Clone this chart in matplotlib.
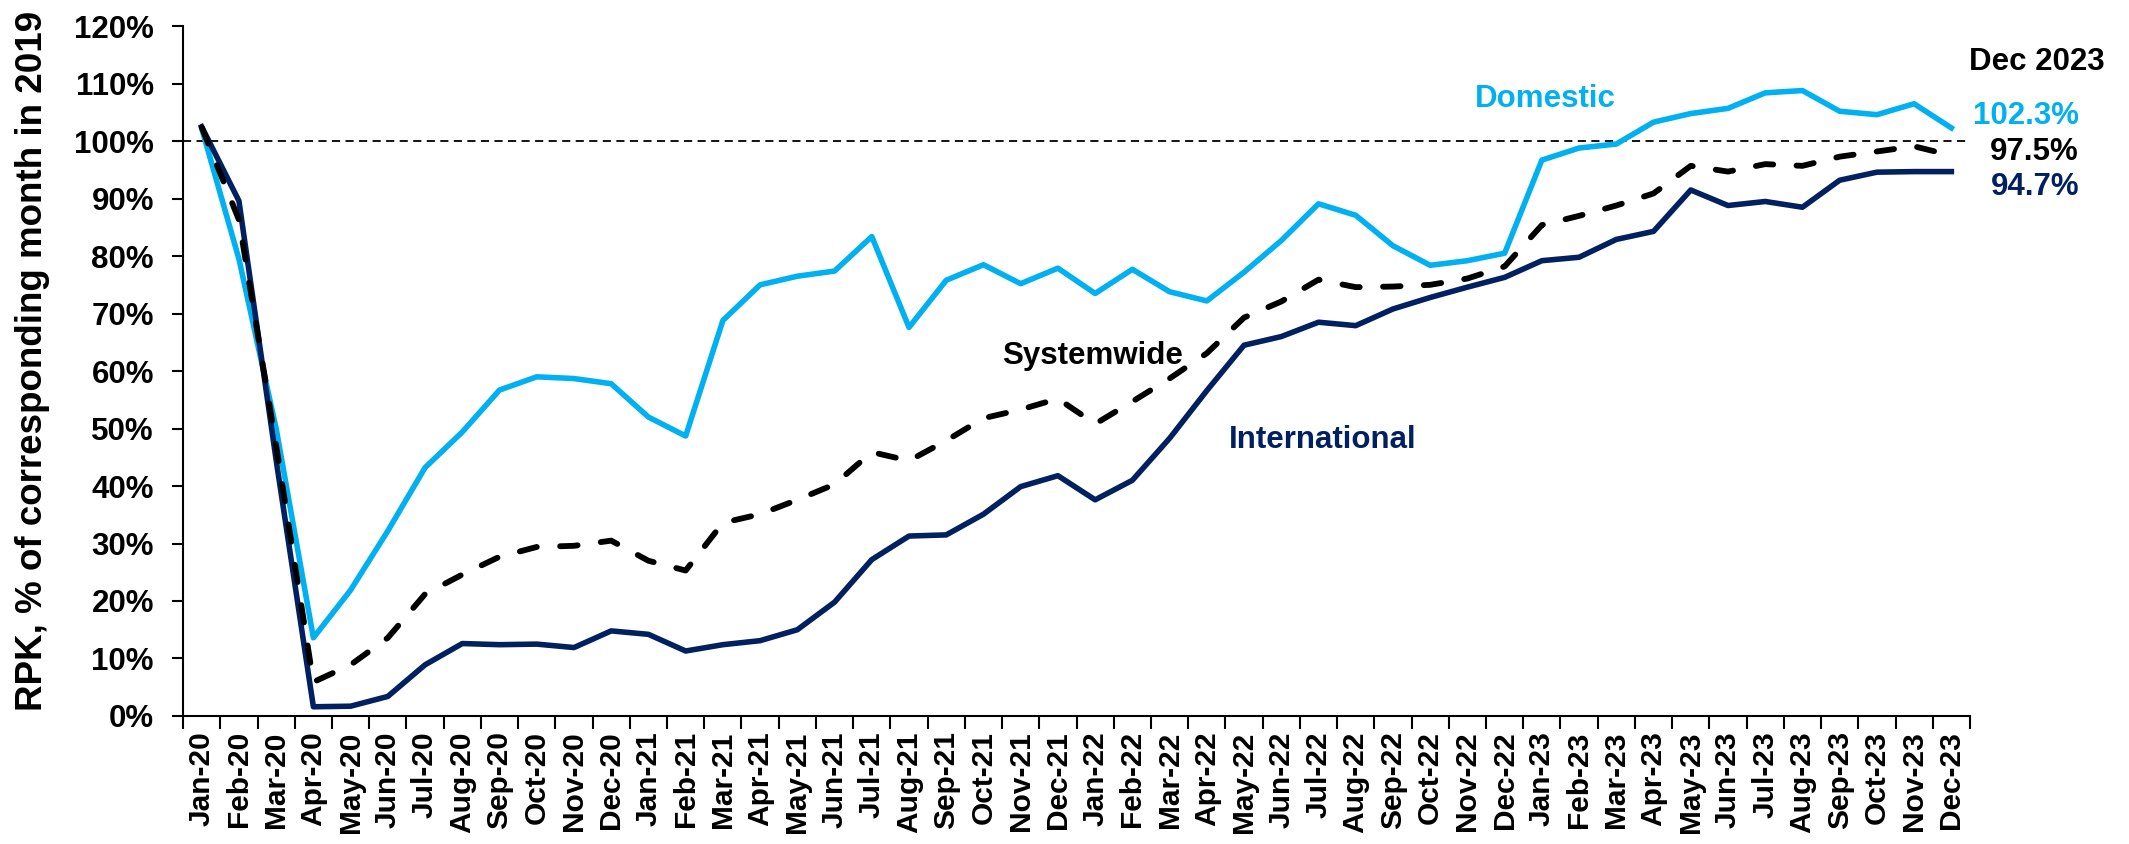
import matplotlib.pyplot as plt
import numpy as np

plt.rcParams['font.family'] = ['Liberation Sans', 'DejaVu Sans']
plt.rcParams['font.weight'] = 'bold'

month_names = ['Jan', 'Feb', 'Mar', 'Apr', 'May', 'Jun',
               'Jul', 'Aug', 'Sep', 'Oct', 'Nov', 'Dec']
years = ['20', '21', '22', '23']
months = [m + '-' + y for y in years for m in month_names]

# % of corresponding month in 2019
domestic = [102.2, 79.5, 50.0, 13.6, 21.9, 32.2, 43.2, 49.4, 56.7, 59.0, 58.7, 57.8,
            52.0, 48.7, 68.8, 75.0, 76.5, 77.4, 83.4, 67.6, 75.8, 78.5, 75.2, 77.9,
            73.5, 77.7, 73.8, 72.2, 77.2, 82.7, 89.1, 87.1, 81.8, 78.4, 79.2, 80.5,
            96.7, 98.8, 99.5, 103.3, 104.8, 105.7, 108.4, 108.8, 105.2, 104.6, 106.5, 102.3]
international = [102.5, 89.6, 44.5, 1.6, 1.7, 3.4, 8.9, 12.6, 12.4, 12.5, 11.9, 14.8,
                 14.2, 11.3, 12.4, 13.1, 15.0, 19.8, 27.2, 31.3, 31.5, 35.1, 39.9, 41.8,
                 37.6, 41.0, 48.3, 56.6, 64.5, 66.0, 68.5, 67.9, 70.8, 72.8, 74.6, 76.3,
                 79.2, 79.8, 82.9, 84.3, 91.5, 88.8, 89.5, 88.5, 93.2, 94.6, 94.7, 94.7]
systemwide = [102.4, 86.3, 47.0, 5.9, 8.9, 13.6, 21.2, 24.6, 27.7, 29.4, 29.6, 30.5,
              27.0, 25.3, 33.6, 35.1, 37.6, 40.3, 45.9, 44.4, 47.9, 51.8, 53.3, 55.2,
              50.8, 54.7, 58.7, 63.1, 69.3, 72.1, 75.9, 74.6, 74.7, 75.0, 76.1, 78.2,
              85.4, 87.0, 88.8, 90.9, 95.7, 94.7, 96.0, 95.7, 97.3, 98.2, 99.1, 97.5]

c_dom = '#00B0F0'
c_int = '#002060'

fig = plt.figure(figsize=(21.29, 8.44), dpi=100)
ax = fig.add_axes([0.086, 0.1517, 0.8393, 0.8173])

x = np.arange(len(months))
dom = np.array(domestic) / 100
intl = np.array(international) / 100
sysw = np.array(systemwide) / 100

ax.axhline(1.0, color='black', lw=1.3, ls=(0, (4.5, 3)), zorder=1)
ax.plot(x, dom, color=c_dom, lw=4, zorder=2)
ax.plot(x, intl, color=c_int, lw=4, zorder=3)
ax.plot(x, sysw, color='black', lw=4.2, ls=(0, (3.0, 4.0)),
        dash_capstyle='round', zorder=4)

ax.set_xlim(-0.5, len(months) - 0.5)
ax.set_ylim(0, 1.2)
ax.set_yticks(np.arange(0, 1.21, 0.1))
ax.set_yticklabels([f'{v}%' for v in range(0, 121, 10)])

# ticks at month boundaries, labels at month centres
ax.set_xticks(np.arange(len(months) + 1) - 0.5)
ax.set_xticklabels([''] * (len(months) + 1))
ax.set_xticks(x, minor=True)
ax.set_xticklabels(months, minor=True, rotation=90)
ax.tick_params(axis='x', which='major', length=9, width=1.5, direction='out')
ax.tick_params(axis='x', which='minor', length=0, pad=11, labelsize=21.5)
ax.tick_params(axis='y', length=8, width=1.5, pad=13, labelsize=22.5)
for lab in ax.get_xticklabels(minor=True) + ax.get_yticklabels():
    lab.set_fontweight('bold')

for s in ['top', 'right']:
    ax.spines[s].set_visible(False)
for s in ['left', 'bottom']:
    ax.spines[s].set_linewidth(1.5)

fig.text(0.0155, 0.572, 'RPK, % of corresponding month in 2019', rotation=90,
         ha='center', va='center', fontsize=26.5, fontweight='bold')

# series labels
ax.text(34.2, 1.073, 'Domestic', color=c_dom, fontsize=22.5, fontweight='bold', va='center')
ax.text(21.5, 0.626, 'Systemwide', color='black', fontsize=22.5, fontweight='bold', va='center')
ax.text(27.6, 0.480, 'International', color=c_int, fontsize=22.5, fontweight='bold', va='center')

# end values
ax.text(49.3, 1.137, 'Dec 2023', color='black', fontsize=22.5, fontweight='bold',
        ha='center', va='center', clip_on=False)
ax.text(50.43, 1.043, f'{domestic[-1]:.1f}%', color=c_dom, fontsize=22.5,
        fontweight='bold', ha='right', va='center', clip_on=False)
ax.text(50.43, 0.981, f'{systemwide[-1]:.1f}%', color='black', fontsize=22.5,
        fontweight='bold', ha='right', va='center', clip_on=False)
ax.text(50.43, 0.920, f'{international[-1]:.1f}%', color=c_int, fontsize=22.5,
        fontweight='bold', ha='right', va='center', clip_on=False)

fig.savefig('out.png', dpi=100)
